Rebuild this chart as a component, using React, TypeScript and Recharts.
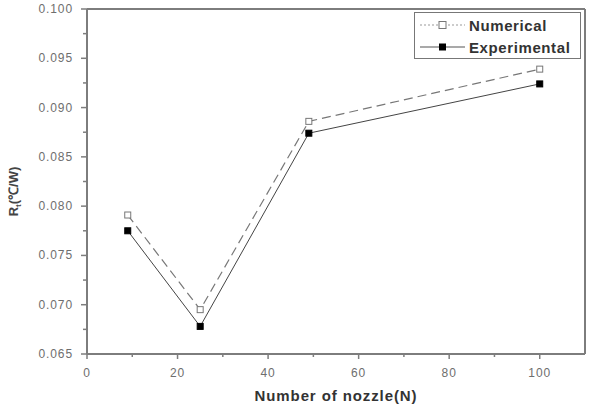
import React from 'react';
import { LineChart, Line, XAxis, YAxis, ReferenceLine, Legend } from 'recharts';

const nozzles = [9, 25, 49, 100];
const numerical = [0.0791, 0.0695, 0.0886, 0.0939];
const experimental = [0.0775, 0.0678, 0.0874, 0.0924];
const xTicks = [0, 10, 20, 30, 40, 50, 60, 70, 80, 90, 100];
const xMajor = [0, 20, 40, 60, 80, 100];
const yTicks = [0.065, 0.0675, 0.07, 0.0725, 0.075, 0.0775, 0.08, 0.0825, 0.085, 0.0875, 0.09, 0.0925, 0.095, 0.0975, 0.1];
const yMajor = [0.065, 0.07, 0.075, 0.08, 0.085, 0.09, 0.095, 0.1];

const data = nozzles.map((n, i) => ({ n, numerical: numerical[i], experimental: experimental[i] }));

const AXIS = '#7d7d7d';
const FONT = 'Liberation Sans, Arial, sans-serif';

const isMajor = (v: number, list: number[]) => list.some((m) => Math.abs(m - v) < 1e-9);

const XTick = (props: any) => {
  const { x, y, payload } = props;
  const major = isMajor(payload.value, xMajor);
  return (
    <g>
      <line x1={x} x2={x} y1={y} y2={y + (major ? 5 : 3)} stroke={AXIS} strokeWidth={1.5} />
      {major && (
        <text x={x} y={y + 23} textAnchor="middle" fontSize={12} fill="#6e6e6e" fontFamily={FONT} letterSpacing={0.9}>
          {payload.value}
        </text>
      )}
    </g>
  );
};

const YTick = (props: any) => {
  const { x, y, payload } = props;
  const major = isMajor(payload.value, yMajor);
  return (
    <g>
      <line x1={x - (major ? 6 : 4)} x2={x} y1={y} y2={y} stroke={AXIS} strokeWidth={1.5} />
      {major && (
        <text x={x - 14} y={y + 4} textAnchor="end" fontSize={12} fill="#6e6e6e" fontFamily={FONT} letterSpacing={0.9}>
          {payload.value.toFixed(3)}
        </text>
      )}
    </g>
  );
};

const YLabel = (props: any) => {
  const vb = props.viewBox || { x: 0, y: 9, width: 87, height: 345 };
  const cx = vb.x + 18;
  const cy = vb.y + vb.height / 2 + 10;
  return (
    <text
      x={cx}
      y={cy}
      transform={`rotate(-90 ${cx} ${cy})`}
      textAnchor="middle"
      fontSize={13}
      fontWeight="bold"
      fill="#444"
      fontFamily={FONT}
    >
      R<tspan fontSize={8} dy={3}>t</tspan>
      <tspan dy={-3}>(℃/W)</tspan>
    </text>
  );
};

const XLabel = (props: any) => {
  const vb = props.viewBox || { x: 87, y: 354, width: 498, height: 52 };
  return (
    <text
      x={vb.x + vb.width / 2}
      y={vb.y + 47}
      textAnchor="middle"
      fontSize={15}
      fontWeight="bold"
      fill="#333"
      fontFamily={FONT}
      letterSpacing={0.9}
    >
      Number of nozzle(N)
    </text>
  );
};

const OpenSquare = (props: any) => {
  const { cx, cy, index } = props;
  return <rect key={`o${index}`} x={cx - 3} y={cy - 3} width={6} height={6} fill="#fff" stroke="#777" strokeWidth={1} />;
};

const FilledSquare = (props: any) => {
  const { cx, cy, index } = props;
  return <rect key={`f${index}`} x={cx - 3} y={cy - 3} width={6} height={6} fill="#000" stroke="#000" strokeWidth={1} />;
};

const LegendBox = () => (
  <div
    style={{
      width: 165,
      height: 45,
      border: '1px solid #777',
      background: '#fff',
      fontFamily: FONT,
      fontWeight: 'bold',
      fontSize: 15,
      color: '#333',
      letterSpacing: 0.6,
      boxSizing: 'content-box',
      whiteSpace: 'nowrap',
    }}
  >
    <div style={{ display: 'flex', alignItems: 'center', height: 22, marginTop: 1 }}>
      <svg width={50} height={12} style={{ marginLeft: 4 }}>
        <line x1={1} x2={46} y1={6} y2={6} stroke="#999" strokeWidth={1} strokeDasharray="2 2" />
        <rect x={20} y={2.5} width={7} height={7} fill="#fff" stroke="#777" />
      </svg>
      <span>Numerical</span>
    </div>
    <div style={{ display: 'flex', alignItems: 'center', height: 22 }}>
      <svg width={50} height={12} style={{ marginLeft: 4 }}>
        <line x1={1} x2={46} y1={6} y2={6} stroke="#555" strokeWidth={1.2} />
        <rect x={20} y={2.5} width={7} height={7} fill="#000" />
      </svg>
      <span>Experimental</span>
    </div>
  </div>
);

export default function App() {
  return (
    <div style={{ position: 'absolute', left: 0, top: 0, background: '#fff' }}>
      <LineChart width={590} height={406} data={data} margin={{ top: 9, right: 5, left: 0, bottom: 0 }}>
        <XAxis
          dataKey="n"
          type="number"
          domain={[0, 110]}
          ticks={xTicks}
          interval={0}
          tick={<XTick />}
          tickLine={false}
          tickSize={0}
          tickMargin={0}
          height={52}
          axisLine={{ stroke: AXIS, strokeWidth: 2 }}
          label={<XLabel />}
        />
        <YAxis
          type="number"
          domain={[0.065, 0.1]}
          ticks={yTicks}
          interval={0}
          tick={<YTick />}
          tickLine={false}
          tickSize={0}
          tickMargin={0}
          width={87}
          axisLine={{ stroke: AXIS, strokeWidth: 2 }}
          label={<YLabel />}
        />
        <ReferenceLine y={0.1} stroke={AXIS} strokeWidth={2} />
        <ReferenceLine x={110} stroke={AXIS} strokeWidth={2} />
        <Legend
          layout="vertical"
          align="center"
          verticalAlign="middle"
          content={<LegendBox />}
          wrapperStyle={{ position: 'absolute', left: 414, top: 12, width: 167, height: 47 }}
        />
        <Line
          type="linear"
          dataKey="numerical"
          stroke="#777"
          strokeWidth={1.2}
          strokeDasharray="9 5"
          dot={<OpenSquare />}
          activeDot={false}
          isAnimationActive={false}
        />
        <Line
          type="linear"
          dataKey="experimental"
          stroke="#444"
          strokeWidth={1}
          dot={<FilledSquare />}
          activeDot={false}
          isAnimationActive={false}
        />
      </LineChart>
    </div>
  );
}
